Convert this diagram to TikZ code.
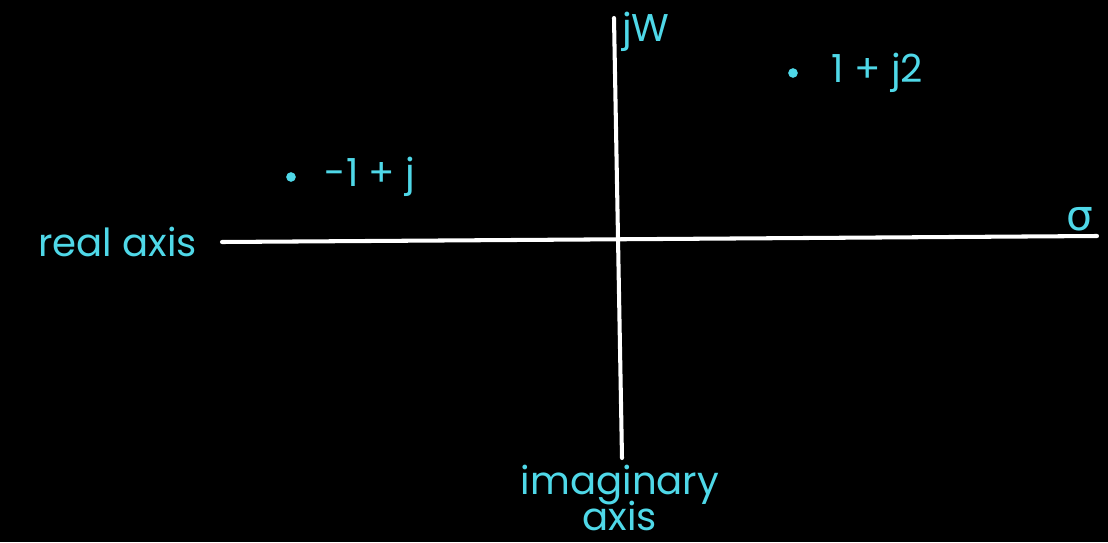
\documentclass[tikz,border=0pt]{standalone}
\usepackage{fontspec}
\setmainfont{Poppins}
\newfontfamily\greekfont{DejaVu Sans}
\usetikzlibrary{positioning}
\definecolor{labelcyan}{HTML}{4FD8E8}

\begin{document}
\begin{tikzpicture}[
    every node/.style={font=\fontsize{22}{24}\selectfont, text=labelcyan},
    axis/.style={white, line width=2.3pt, line cap=round},
    pole/.style={circle, fill=labelcyan, inner sep=0pt, minimum size=5.5pt},
]

% === Background ===
\fill[black] (0, 0) rectangle (22.16, 10.84);

% === Axes ===
\coordinate (realstart) at (4.44, 6.0);
\coordinate (realend) at (21.94, 6.12);
\coordinate (imagtop) at (12.28, 10.48);
\coordinate (imagbottom) at (12.44, 1.68);
\draw[axis] (realstart) -- (realend);
\draw[axis] (imagtop) -- (imagbottom);

% Axis labels
\node[anchor=east] (reallabel) at (4.06, 6.0) {real axis};
\node[anchor=west, inner sep=1pt] (jwlabel) at (12.4, 10.2) {jW};
\node[font=\fontsize{24}{26}\selectfont\greekfont] (sigmalabel) at (21.6, 6.45) {σ};
\node[anchor=base, inner sep=1pt] (imaglabel) at (12.4, 0.95) {imaginary};
\node[anchor=base, inner sep=1pt] (imaglabelaxis) at (12.4, 0.24) {axis};

% === Points ===
\node[pole] (pointa) at (15.86, 9.38) {};
\node[right=0.55cm of pointa] (pointalabel) {1 + j2};
\node[pole] (pointb) at (5.82, 7.3) {};
\node[right=0.45cm of pointb] (pointblabel) {-1 + j};

\end{tikzpicture}
\end{document}
